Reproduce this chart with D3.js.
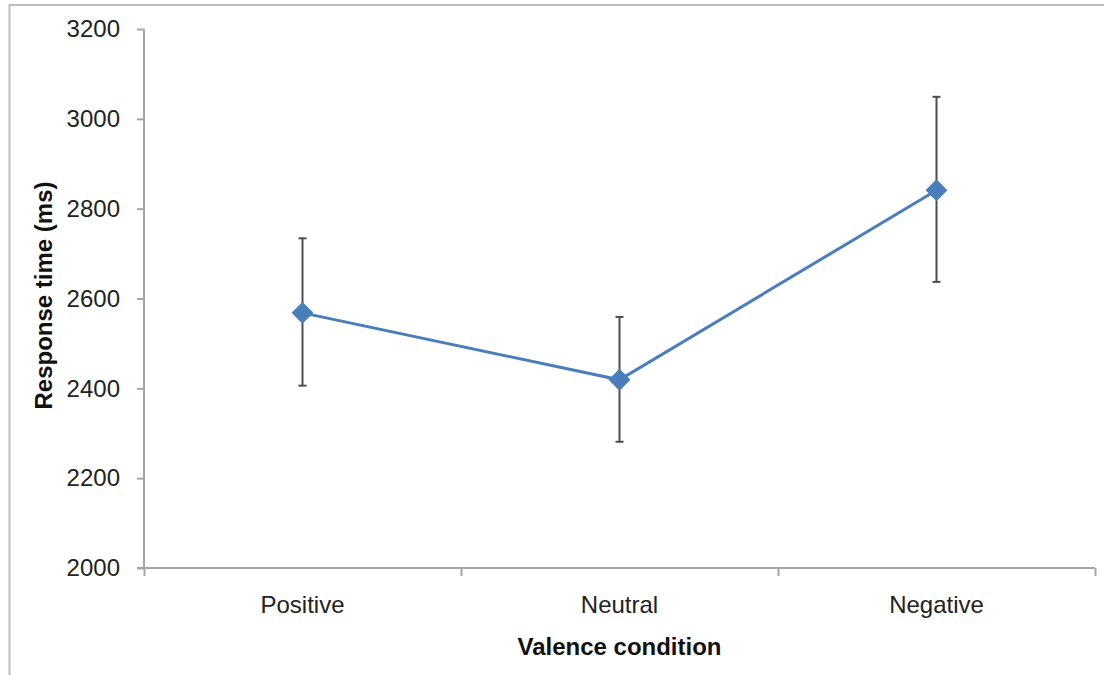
<!DOCTYPE html>
<meta charset="utf-8">
<script src="https://d3js.org/d3.v7.min.js"></script>
<style>
  body { margin: 0; background: #fff; }
  svg { display: block; font-family: "Liberation Sans", Arial, sans-serif; }
</style>
<div id="chart"></div>
<script>
// data
var conditions = ["Positive", "Neutral", "Negative"];
var meanRT = [2568, 2419, 2841];
var errLow = [2406, 2281, 2637];
var errHigh = [2734, 2559, 3049];
var yTicks = [2000, 2200, 2400, 2600, 2800, 3000, 3200];

var W = 1104, H = 675;
var margin = {top: 29, right: 9, bottom: 107, left: 144},
    width = W - margin.left - margin.right,
    height = H - margin.top - margin.bottom;

var data = conditions.map(function(c, i) {
  return {cond: c, mean: meanRT[i], lo: errLow[i], hi: errHigh[i]};
});

var svg = d3.select("#chart").append("svg")
    .attr("width", W)
    .attr("height", H);

// outer frame (runs off the right and bottom edge)
svg.append("rect")
    .attr("x", 9.5).attr("y", 5)
    .attr("width", W + 20).attr("height", H + 20)
    .attr("fill", "none")
    .attr("stroke", "#bdbdbd")
    .attr("stroke-width", 2);

var g = svg.append("g")
    .attr("transform", "translate(" + margin.left + "," + margin.top + ")");

var x = d3.scaleBand().domain(conditions).range([0, width]).padding(0);
var xEdge = d3.scaleLinear().domain([0, conditions.length]).range([0, width]);
var y = d3.scaleLinear().domain([2000, 3200]).range([height, 0]);

// y axis
var yAxis = g.append("g")
    .call(d3.axisLeft(y).tickValues(yTicks).tickFormat(d3.format("d"))
      .tickSize(7).tickPadding(17));
yAxis.selectAll("line, path").attr("stroke", "#a6a6a6").attr("stroke-width", 2);
yAxis.select(".domain").attr("d", "M0," + height + "V0");
yAxis.selectAll("text").style("font-size", "24px").attr("fill", "#222");

// x axis: tick marks at category boundaries
var xAxis = g.append("g")
    .attr("transform", "translate(0," + height + ")")
    .call(d3.axisBottom(xEdge).tickValues(d3.range(conditions.length + 1))
      .tickSize(8).tickFormat(""));
xAxis.selectAll("line, path").attr("stroke", "#a6a6a6").attr("stroke-width", 2);
xAxis.select(".domain").attr("d", "M-7,0H" + width);

// category labels
var xLab = g.append("g")
    .attr("transform", "translate(0," + height + ")")
    .call(d3.axisBottom(x).tickSize(0).tickPadding(28));
xLab.select(".domain").remove();
xLab.selectAll("text").style("font-size", "24px").attr("fill", "#222");

// axis titles
g.append("text")
    .attr("x", width / 2)
    .attr("y", height + 87)
    .attr("text-anchor", "middle")
    .style("font-size", "24px")
    .style("font-weight", "bold")
    .attr("fill", "#111")
    .text("Valence condition");

g.append("text")
    .attr("transform", "translate(" + (-92) + "," + (height / 2 - 3) + ") rotate(-90)")
    .attr("text-anchor", "middle")
    .style("font-size", "24px")
    .style("font-weight", "bold")
    .attr("fill", "#111")
    .text("Response time (ms)");

var cx = function(d) { return x(d.cond) + x.bandwidth() / 2; };

// error bars
var eb = g.append("g").selectAll("g")
    .data(data)
    .enter().append("g")
      .attr("stroke", "#4d4d4d")
      .attr("stroke-width", 2);
eb.append("line")
    .attr("x1", cx).attr("x2", cx)
    .attr("y1", function(d) { return y(d.lo); })
    .attr("y2", function(d) { return y(d.hi); });
eb.append("line")
    .attr("x1", function(d) { return cx(d) - 4; })
    .attr("x2", function(d) { return cx(d) + 4; })
    .attr("y1", function(d) { return y(d.lo); })
    .attr("y2", function(d) { return y(d.lo); });
eb.append("line")
    .attr("x1", function(d) { return cx(d) - 4; })
    .attr("x2", function(d) { return cx(d) + 4; })
    .attr("y1", function(d) { return y(d.hi); })
    .attr("y2", function(d) { return y(d.hi); });

// line
g.append("path")
    .datum(data)
    .attr("fill", "none")
    .attr("stroke", "#4a7ebb")
    .attr("stroke-width", 3)
    .attr("d", d3.line().x(cx).y(function(d) { return y(d.mean); }));

// diamond markers
g.selectAll(".marker")
    .data(data)
    .enter().append("path")
      .attr("class", "marker")
      .attr("d", d3.symbol().type(d3.symbolSquare).size(240))
      .attr("transform", function(d) {
        return "translate(" + cx(d) + "," + y(d.mean) + ") rotate(45)";
      })
      .attr("fill", "#4a7ebb");
</script>
